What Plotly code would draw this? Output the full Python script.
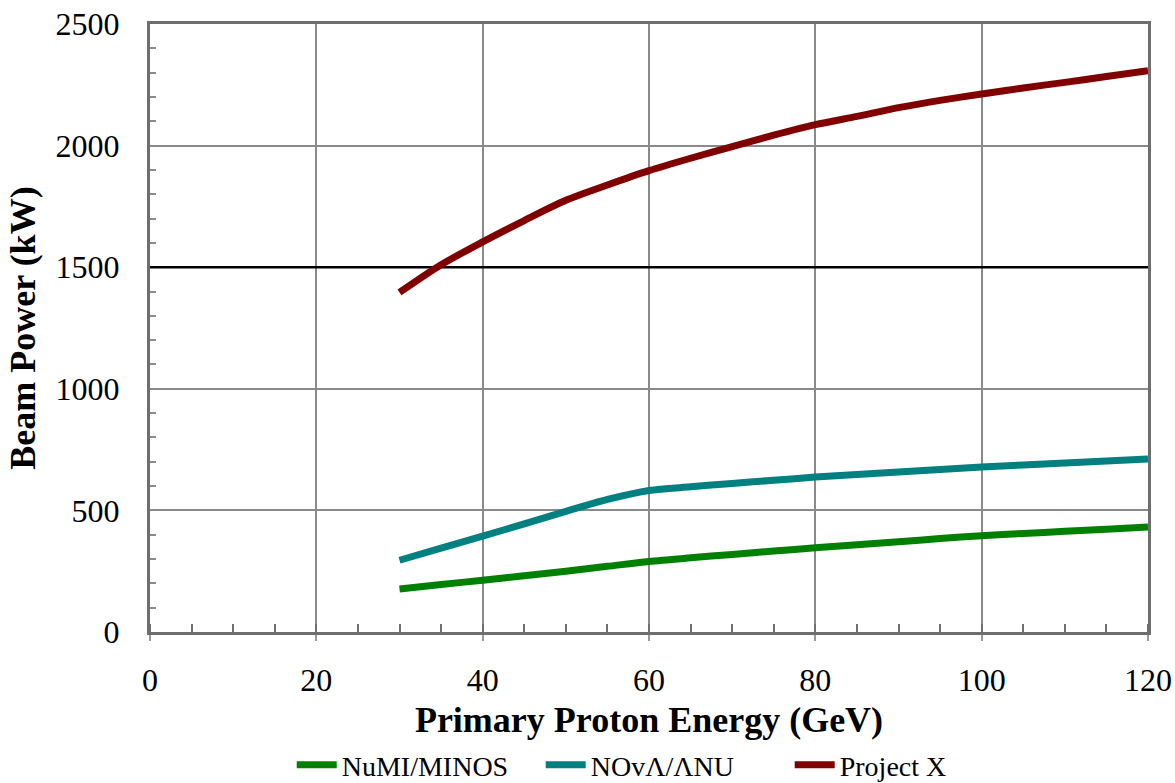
import plotly.graph_objects as go

energy = [30, 35, 40, 45, 50, 55, 60, 65, 70, 75, 80, 85, 90, 95, 100, 105, 110, 115, 120]
numi_minos = [177, 195, 213, 231, 250, 270, 290, 305, 319, 333, 346, 359, 371, 384, 396, 405, 414, 423, 432]
nova_anu = [295, 345, 394, 445, 496, 545, 582, 597, 611, 624, 637, 648, 658, 668, 678, 687, 695, 703, 711]
project_x = [1396, 1510, 1604, 1692, 1775, 1838, 1897, 1948, 1996, 2043, 2086, 2120, 2156, 2186, 2212, 2237, 2260, 2284, 2308]

series_names = ["NuMI/MINOS", "NOvΛ/ΛNU", "Project X"]
series_colors = ["#008000", "#008080", "#800000"]
highlight_level = 1500
x_range = [0, 120]
y_range = [0, 2500]

FONT = "Liberation Serif"

fig = go.Figure()
# emphasised (black) gridline at 1500 kW, drawn above the grid and below the data
fig.add_trace(go.Scatter(x=x_range, y=[highlight_level, highlight_level], mode="lines",
                         line=dict(color="black", width=2.5), showlegend=False, hoverinfo="skip"))
for name, vals, col in zip(series_names, [numi_minos, nova_anu, project_x], series_colors):
    fig.add_trace(go.Scatter(x=energy, y=vals, mode="lines", name=name,
                             line=dict(color=col, width=7, shape="spline", smoothing=0.8),
                             cliponaxis=False))

fig.update_layout(
    width=1175, height=783,
    margin=dict(l=150, r=27, t=24, b=151, autoexpand=False),
    paper_bgcolor="white", plot_bgcolor="white",
    font=dict(family=FONT, color="black"),
    showlegend=True,
    legend=dict(orientation="h", x=0.142, xanchor="left", yref="container", y=0.023, yanchor="middle",
                font=dict(family=FONT, size=28), traceorder="normal",
                bgcolor="rgba(0,0,0,0)", itemwidth=40, entrywidth=194, entrywidthmode="pixels"),
)

fig.update_xaxes(
    range=x_range, tick0=0, dtick=20, automargin=False,
    showgrid=True, gridcolor="#8a8a8a", gridwidth=2,
    showline=True, linecolor="#6e6e6e", linewidth=3, mirror=True,
    ticks="outside", ticklen=6, tickcolor="#999999", tickwidth=2,
    tickfont=dict(family=FONT, size=32), ticklabeloverflow="allow",
    ticklabelstandoff=12,
    minor=dict(dtick=5, ticks="inside", ticklen=8, tickcolor="#6e6e6e", tickwidth=2, showgrid=False),
    title=dict(text="<b>Primary Proton Energy (GeV)</b>", font=dict(family=FONT, size=36), standoff=15),
    zeroline=False,
)
fig.update_yaxes(
    range=y_range, tick0=0, dtick=500, automargin=False,
    showgrid=True, gridcolor="#8a8a8a", gridwidth=2,
    showline=True, linecolor="#6e6e6e", linewidth=3, mirror=True,
    ticks="", tickfont=dict(family=FONT, size=32), ticklabeloverflow="allow",
    ticklabelstandoff=21,
    minor=dict(dtick=100, ticks="inside", ticklen=6, tickcolor="#8a8a8a", tickwidth=2, showgrid=False),
    title=dict(text="<b>Beam Power (kW)</b>", font=dict(family=FONT, size=36), standoff=9),
    zeroline=False,
)

# remove the browser's default 8px body margin so the figure fills the window exactly
fig.write_html("out.html", config={"displayModeBar": False},
               post_script="document.body.style.margin='0';document.body.style.overflow='hidden';")
